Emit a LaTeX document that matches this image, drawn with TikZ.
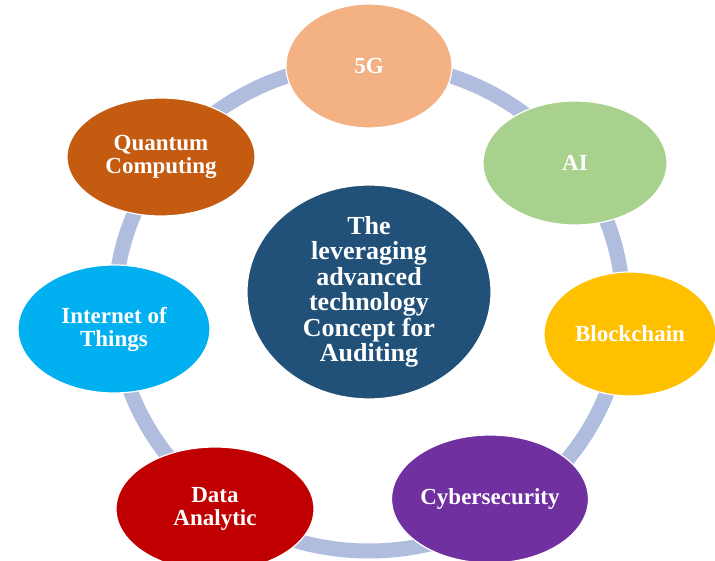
\documentclass[tikz,border=0pt]{standalone}
\usepackage{fontspec}
\setmainfont{Liberation Serif}
\usetikzlibrary{shapes.geometric}
\definecolor{ringc}{HTML}{B0BDDF}
\definecolor{c5g}{HTML}{F4B183}
\definecolor{cai}{HTML}{A9D18E}
\definecolor{cbc}{HTML}{FFC000}
\definecolor{ccy}{HTML}{7030A0}
\definecolor{cda}{HTML}{C00000}
\definecolor{ciot}{HTML}{00B0F0}
\definecolor{cqc}{HTML}{C55A11}
\definecolor{cctr}{HTML}{215078}
\tikzset{
  bubble/.style={ellipse, draw=white, line width=1.2pt, inner sep=0pt, align=center,
    text=white, font=\fontsize{23}{23}\selectfont\bfseries},
  hub/.style={bubble, font=\fontsize{26}{25.5}\selectfont\bfseries}
}
\begin{document}
\begin{tikzpicture}[x=1pt,y=-1pt]
\useasboundingbox (0,0) rectangle (715,561);
\coordinate (rc) at (369,307);
\draw[ringc, line width=15pt] (rc) ellipse [x radius=254pt, y radius=244pt];
\node[hub, fill=cctr, minimum width=244pt, minimum height=195pt] (ctr) at (369,292)
  {The\\leveraging\\advanced\\technology\\Concept for\\Auditing};
\node[bubble, fill=c5g, minimum width=166pt, minimum height=124pt] (g5) at (369,66) {5G};
\node[bubble, fill=cai, minimum width=184pt, minimum height=124pt] (ai) at (575,163) {AI};
\node[bubble, fill=cbc, minimum width=172pt, minimum height=124pt] (bc) at (630,334) {Blockchain};
\node[bubble, fill=ccy, minimum width=196pt, minimum height=128pt] (cy) at (490,499) {Cybersecurity};
\node[bubble, fill=cda, minimum width=198pt, minimum height=124pt] (da) at (215,509) {Data\\Analytic};
\node[bubble, fill=ciot, minimum width=192pt, minimum height=128pt] (iot) at (114,329) {Internet of\\Things};
\node[bubble, fill=cqc, minimum width=188pt, minimum height=118pt] (qc) at (161,157) {Quantum\\Computing};
\end{tikzpicture}
\end{document}
